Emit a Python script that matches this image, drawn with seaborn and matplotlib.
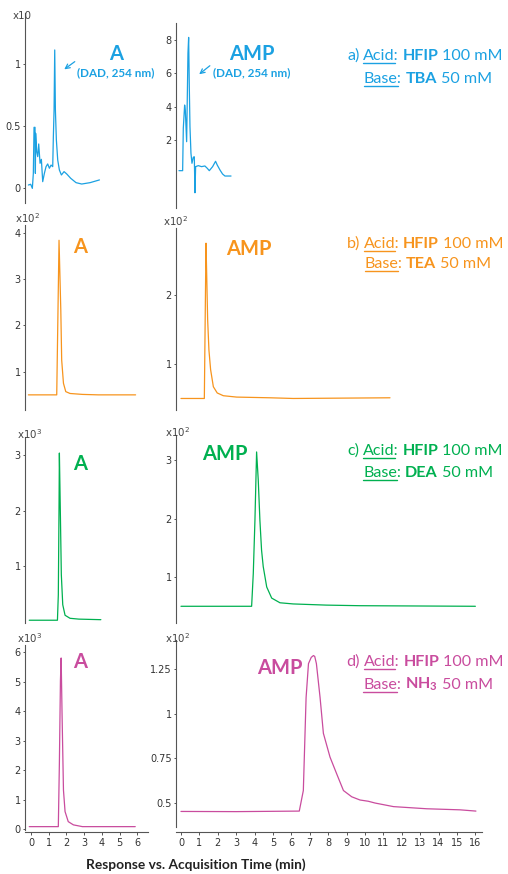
import matplotlib
matplotlib.use("Agg")
import matplotlib.pyplot as plt
from matplotlib.lines import Line2D
from matplotlib.patches import FancyArrowPatch
import seaborn as sns

# ---------------- chromatogram traces ----------------
# time in minutes, response in units of each panel's multiplier

# a) HFIP / TBA, DAD 254 nm
a_A_time = [-0.15, -0.02, 0.075, 0.13, 0.17, 0.226, 0.245, 0.26, 0.32, 0.377, 0.433, 0.51, 0.584,
            0.659, 0.753, 0.847, 0.94, 1.036, 1.13, 1.224, 1.26, 1.30, 1.337, 1.375, 1.43, 1.506,
            1.60, 1.714, 1.864, 2.015, 2.24, 2.54, 2.86, 3.33, 3.86]
a_A_resp = [0.024, 0.03, -0.003, 0.118, 0.489, 0.489, 0.118, 0.441, 0.293, 0.253, 0.355, 0.199, 0.231,
            0.051, 0.118, 0.172, 0.194, 0.159, 0.185, 0.172, 0.414, 0.629, 1.113, 0.629, 0.387, 0.226,
            0.145, 0.105, 0.132, 0.113, 0.078, 0.043, 0.032, 0.043, 0.065]

a_AMP_time = [-0.109, 0.091, 0.127, 0.199, 0.236, 0.308, 0.38, 0.417, 0.453, 0.489, 0.543, 0.598,
              0.67, 0.725, 0.76, 0.797, 0.942, 1.12, 1.30, 1.43, 1.54, 1.72, 1.88, 1.97, 2.12,
              2.26, 2.39, 2.72]
a_AMP_resp = [0.17, 0.17, 2.70, 4.09, 3.79, 1.90, 7.18, 8.13, 5.18, 2.80, 1.21, 0.61,
              0.97, 1.0, -1.15, 0.41, 0.47, 0.41, 0.45, 0.31, 0.17, 0.41, 0.73, 0.51, 0.21,
              -0.03, -0.15, -0.15]

# b) HFIP / TEA
b_A_time = [-0.15, 1.45, 1.58, 1.68, 1.73, 1.83, 1.96, 2.2, 2.9, 3.8, 5.9]
b_A_resp = [0.5, 0.5, 3.84, 2.33, 1.25, 0.75, 0.57, 0.53, 0.51, 0.5, 0.5]

b_AMP_time = [0.0, 1.27, 1.36, 1.40, 1.45, 1.52, 1.61, 1.76, 1.97, 2.3, 3.03, 4.84, 6.1, 11.36]
b_AMP_resp = [0.5, 0.5, 2.75, 2.27, 1.64, 1.2, 0.92, 0.67, 0.58, 0.54, 0.52, 0.51, 0.5, 0.51]

# c) HFIP / DEA
c_A_time = [-0.1, 1.49, 1.54, 1.58, 1.60, 1.66, 1.71, 1.79, 1.92, 2.2, 2.7, 3.94]
c_A_resp = [0.02, 0.02, 0.48, 2.07, 3.04, 1.86, 0.84, 0.3, 0.11, 0.055, 0.04, 0.03]

c_AMP_time = [0.0, 3.84, 3.93, 4.02, 4.11, 4.2, 4.29, 4.38, 4.47, 4.66, 4.93, 5.38, 6.1, 7.9, 9.7, 16.0]
c_AMP_resp = [0.5, 0.5, 1.06, 1.97, 3.14, 2.66, 1.97, 1.46, 1.18, 0.83, 0.64, 0.56, 0.54, 0.52, 0.51, 0.5]

# d) HFIP / NH3
d_A_time = [-0.1, 1.54, 1.60, 1.66, 1.70, 1.75, 1.83, 1.92, 2.1, 2.39, 2.9, 5.88]
d_A_resp = [0.08, 0.08, 2.23, 5.05, 5.8, 3.92, 1.32, 0.59, 0.25, 0.14, 0.08, 0.08]

d_AMP_time = [0.0, 3.0, 6.43, 6.65, 6.8, 6.93, 7.08, 7.2, 7.27, 7.36, 7.56, 7.74, 8.1, 8.46, 8.83,
              9.28, 9.73, 10.18, 10.55, 11.55, 13.36, 15.17, 16.03]
d_AMP_resp = [0.453, 0.452, 0.455, 0.57, 1.09, 1.28, 1.315, 1.325, 1.32, 1.28, 1.09, 0.89, 0.757,
              0.664, 0.57, 0.535, 0.517, 0.51, 0.50, 0.48, 0.468, 0.462, 0.455]

# y ticks per panel
yticks = {
    "aA": ([0, 0.5, 1], ["0", "0.5", "1"]),
    "aAMP": ([2, 4, 6, 8], ["2", "4", "6", "8"]),
    "bA": ([1, 2, 3, 4], ["1", "2", "3", "4"]),
    "bAMP": ([1, 2], ["1", "2"]),
    "cA": ([1, 2, 3], ["1", "2", "3"]),
    "cAMP": ([1, 2, 3], ["1", "2", "3"]),
    "dA": ([0, 1, 2, 3, 4, 5, 6], ["0", "1", "2", "3", "4", "5", "6"]),
    "dAMP": ([0.5, 0.75, 1, 1.25], ["0.5", "0.75", "1", "1.25"]),
}
xticks_left = [0, 1, 2, 3, 4, 5, 6]
xticks_right = list(range(0, 17))

multipliers = {"aA": "x10", "bA": "x10$^{2}$", "bAMP": "x10$^{2}$",
               "cA": "x10$^{3}$", "cAMP": "x10$^{2}$", "dA": "x10$^{3}$", "dAMP": "x10$^{2}$"}

row_letters = ["a)", "b)", "c)", "d)"]
acids = ["HFIP", "HFIP", "HFIP", "HFIP"]
acid_conc = "100 mM"
bases = ["TBA", "TEA", "DEA", "NH$_3$"]
base_conc = "50 mM"
analytes = ["A", "AMP"]
detector_note = "(DAD, 254 nm)"
xlabel = "Response vs. Acquisition Time (min)"

colors = ["#1ba1e2", "#f7941d", "#00b050", "#c94c9e"]

# ---------------- styling ----------------
sns.set_theme(style="ticks")
FONT = "Lato"
plt.rcParams.update({
    "font.family": ["DejaVu Sans"],
    "axes.edgecolor": "#555555",
    "axes.linewidth": 0.8,
    "xtick.color": "#555555",
    "ytick.color": "#555555",
    "xtick.labelcolor": "#333333",
    "ytick.labelcolor": "#333333",
    "xtick.labelsize": 7,
    "ytick.labelsize": 7,
    "xtick.major.size": 2.2,
    "ytick.major.size": 1.5,
    "xtick.major.width": 0.7,
    "ytick.major.width": 0.7,
    "xtick.major.pad": 2.0,
    "ytick.major.pad": 1.6,
    "mathtext.default": "regular",
})

W, H = 508, 874
fig = plt.figure(figsize=(W / 100, H / 100), dpi=100)
fig.patch.set_facecolor("white")


def fy(py):
    return 1 - py / H


LEFT_X = (25, 148, (-0.34, 6.6))
RIGHT_X = (176, 482, (-0.27, 16.36))

panels = [
    # key, column, ytop, ybot, ylim, time, resp, color, bottom axis, outward
    ("aA", LEFT_X, 13, 203, (-0.121, 1.411), a_A_time, a_A_resp, colors[0], False, 0),
    ("aAMP", RIGHT_X, 23, 208, (-2.06, 8.99), a_AMP_time, a_AMP_resp, colors[0], False, 0),
    ("bA", LEFT_X, 225, 410, (0.173, 4.17), b_A_time, b_A_resp, colors[1], False, 0),
    ("bAMP", RIGHT_X, 228, 410, (0.333, 2.97), b_AMP_time, b_AMP_resp, colors[1], False, 0),
    ("cA", LEFT_X, 437, 623, (-0.03, 3.33), c_A_time, c_A_resp, colors[2], False, 0),
    ("cAMP", RIGHT_X, 435, 623, (0.214, 3.43), c_AMP_time, c_AMP_resp, colors[2], False, 0),
    ("dA", LEFT_X, 645, 830, (-0.034, 6.24), d_A_time, d_A_resp, colors[3], True, 1.5),
    ("dAMP", RIGHT_X, 640, 827, (0.366, 1.412), d_AMP_time, d_AMP_resp, colors[3], True, 3.6),
]

axes = {}
for key, (x0, x1, xlim), ytop, ybot, ylim, t, r, col, has_x, outward in panels:
    ax = fig.add_axes([x0 / W, 1 - ybot / H, (x1 - x0) / W, (ybot - ytop) / H])
    ax.set_facecolor("none")
    sns.lineplot(x=t, y=r, ax=ax, color=col, lw=0.9, estimator=None, sort=False)
    ax.set_xlim(*xlim)
    ax.set_ylim(*ylim)
    ticks, labels = yticks[key]
    ax.set_yticks(ticks)
    ax.set_yticklabels(labels)
    ax.set_xlabel("")
    ax.set_ylabel("")
    sns.despine(ax=ax, top=True, right=True, bottom=not has_x)
    if has_x:
        ax.set_xticks(xticks_left if x0 < 100 else xticks_right)
        ax.spines["bottom"].set_position(("outward", outward))
    else:
        ax.set_xticks([])
    axes[key] = ax

# axis multipliers
mult_pos = {"aA": (13, 19), "bA": (15, 223), "bAMP": (163, 226), "cA": (17, 439),
            "cAMP": (165, 437), "dA": (17, 643), "dAMP": (165, 643)}
for key, (px, py) in mult_pos.items():
    fig.text(px / W, fy(py), multipliers[key], fontsize=7.4, color="#444444",
             ha="left", va="baseline")

# analyte labels
analyte_pos = [((116.5, 60), (251.5, 60)), ((80.5, 253), (248.5, 255)),
               ((80.5, 470), (225, 460)), ((80.5, 668), (280, 674))]
for col, (pa, pb) in zip(colors, analyte_pos):
    for name, (px, py) in zip(analytes, (pa, pb)):
        fig.text(px / W, fy(py), name, fontsize=14.5, fontweight="bold", family=FONT,
                 color=col, ha="center", va="baseline")

# detector notes with arrows in the DAD row
for (cx, by), (tail, head) in zip([(115.5, 76), (252, 76)],
                                  [((77, 60), (62, 71)), ((212, 64), (197, 76))]):
    fig.text(cx / W, fy(by), detector_note, fontsize=8.4, fontweight="bold", family=FONT,
             color=colors[0], ha="center", va="baseline")
    fig.add_artist(FancyArrowPatch((tail[0] / W, fy(tail[1])), (head[0] / W, fy(head[1])),
                                   transform=fig.transFigure, arrowstyle="->",
                                   mutation_scale=8, lw=0.9, color=colors[0]))

# condition text with underlined words
renderer = fig.canvas.get_renderer()


def _width(t):
    return t.get_window_extent(renderer=renderer).width


def _space(size):
    a = fig.text(0, 0, "n n", fontsize=size, family=FONT)
    b = fig.text(0, 0, "nn", fontsize=size, family=FONT)
    s = _width(a) - _width(b)
    a.remove()
    b.remove()
    return s * 0.92


def rich_line(cx, base_y, parts, color, size):
    """parts: (text, bold, underlined prefix, space before)."""
    sp = _space(size)
    items = []
    total = 0.0
    for s, bold, under, gap in parts:
        kw = dict(fontsize=size, fontweight="bold" if bold else "normal",
                  family=FONT, color=color, ha="left", va="baseline")
        t = fig.text(0, fy(base_y), s, **kw)
        w = _width(t)
        uw = 0.0
        if under:
            probe = fig.text(0, 0, under, **kw)
            uw = _width(probe)
            probe.remove()
        g = sp if gap else 0.0
        items.append((t, w, g, uw))
        total += w + g
    x = cx - total / 2
    for t, w, g, uw in items:
        x += g
        t.set_x(x / W)
        if uw:
            fig.add_artist(Line2D([x / W, (x + uw) / W], [fy(base_y + 3)] * 2,
                                  transform=fig.transFigure, color=color, lw=1.0))
        x += w


cond_baselines = [(60, 83), (248, 268), (455, 477), (666, 689)]
for i, col in enumerate(colors):
    y1, y2 = cond_baselines[i]
    rich_line(425, y1, [(row_letters[i], False, None, False),
                        ("Acid:", False, "Acid", True),
                        (acids[i], True, None, True),
                        (acid_conc, False, None, True)], col, 11.6)
    rich_line(428, y2, [("Base:", False, "Base", False),
                        (bases[i], True, None, True),
                        (base_conc, False, None, True)], col, 11.6)

fig.text(196 / W, fy(869), xlabel, fontsize=9.9, fontweight="bold", family=FONT,
         color="#222222", ha="center", va="baseline")

fig.savefig("out.png", dpi=100, facecolor="white")
